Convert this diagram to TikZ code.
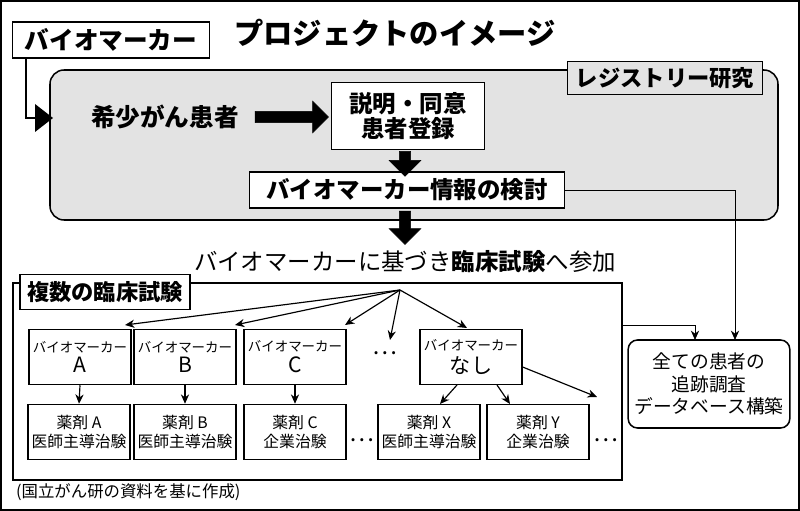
\documentclass[tikz,border=0pt]{standalone}
\usepackage{fontspec}
\setmainfont{Noto Sans CJK JP}
\usetikzlibrary{positioning,arrows.meta,shapes.arrows}
\tikzset{
  box/.style={draw,line width=1.3pt,fill=white,align=center,inner sep=1pt},
  bigarrow/.style={single arrow,fill=black,draw=black,minimum height=#1,minimum width=0.95cm,single arrow head extend=5pt,inner sep=2.5pt},
  arrow/.style={-{Stealth[length=8pt,width=7pt]},line width=1pt},
  thin arrow/.style={-{Stealth[length=8pt,width=7pt]},line width=0.7pt}
}
\newcommand{\fs}[1]{\fontsize{#1}{#1}\selectfont}
\begin{document}
\begin{tikzpicture}[x=0.03cm,y=-0.03cm,font=\fs{20}]
\useasboundingbox (0,0) rectangle (800,511);
\draw[line width=2.5pt] (1,1) rectangle (799,510);
% title
\node[font=\fs{25}\bfseries] (title) at (395,33) {プロジェクトのイメージ};
% registry
\draw[line width=1.3pt,fill=gray!22,rounded corners=12pt] (50,70) rectangle (778,220);
\node[box,fill=gray!22,minimum width=5.85cm,minimum height=1cm,font=\fs{19}\bfseries] (reg) at (665,78) {レジストリー研究};
\node[box,minimum width=5.9cm,minimum height=1.08cm,font=\fs{21}\bfseries] (bm) at (111,40) {バイオマーカー};
\node[font=\fs{21}\bfseries] (pat) at (165,117) {希少がん患者};
\node[box,minimum width=4.6cm,minimum height=2cm,font=\fs{20}\bfseries] (cons) at (408,116) {説明・同意\\[2pt]患者登録};
\node[box,minimum width=9.45cm,minimum height=1.08cm,font=\fs{20}\bfseries] (info) at (407,190) {バイオマーカー情報の検討};
\coordinate (in) at (52,118);
\draw[line width=1.5pt] (bm.south west)++(14,0) |- (in);
\fill (35,104) -- (53,118) -- (35,132) -- cycle;
\node[bigarrow=2.2cm] (a1) at (289,117) {};
\node[bigarrow=0.75cm,rotate=-90] (a2) at (405,161) {};
\node[bigarrow=1cm,rotate=-90] (a3) at (405,225) {};
\node (join) at (405,262) {バイオマーカーに基づき{\bfseries 臨床試験}へ参加};
% trials
\draw[line width=1.3pt] (13,283) rectangle (622,480);
\node[box,minimum width=5.1cm,minimum height=1.05cm,font=\fs{19}\bfseries] (multi) at (105,292) {複数の臨床試験};
\node[box,rounded corners=8pt,minimum width=4.85cm,minimum height=2.64cm,font=\fs{16}] (all) at (709,384) {全ての患者の\\[3pt]追跡調査\\[3pt]データベース構築};
\draw[thin arrow] (info.east) -- (735,190) -- (735,340);
\draw[thin arrow] (622,325) -- (695,325) -- (695,340);
\coordinate (src) at (400,290);
\foreach \n/\x/\t in {bA/80/A,bB/185/B,bC/295/C,bN/471/なし}
  \node[box,minimum width=3.05cm,minimum height=1.65cm,font=\fs{11.5}] (\n) at (\x,357) {バイオマーカー\\[3pt]{\fs{18}\t}};
\node (dots1) at (385,353) {…};
\foreach \n/\x/\a/\b in {dA/79/薬剤 A/医師主導治験,dB/185/薬剤 B/医師主導治験,dC/295/薬剤 C/企業治験,dX/429/薬剤 X/医師主導治験,dY/538/薬剤 Y/企業治験}
  \node[box,minimum width=3.05cm,minimum height=1.65cm,font=\fs{13.5}] (\n) at (\x,432) {\a\\[2pt]\b};
\node (dots2) at (362,440) {…};
\node (dots3) at (606,440) {…};
\draw[arrow] (src) -- (125,325);
\draw[arrow] (src) -- (235,325);
\draw[arrow] (src) -- (345,325);
\draw[arrow] (src) -- (390,340);
\draw[arrow] (src) -- (467,328);
\foreach \s/\d in {bA/dA,bB/dB,bC/dC}
  \draw[arrow] (\s.south) -- (\d.north);
\draw[arrow] (457,385) -- (440,404);
\draw[arrow] (497,385) -- (510,404);
\draw[arrow] (bN.east) ++(0,10) -- (597,397);
\node[anchor=west,font=\fs{14}] (src note) at (12,492) {(国立がん研の資料を基に作成)};
\end{tikzpicture}
\end{document}
